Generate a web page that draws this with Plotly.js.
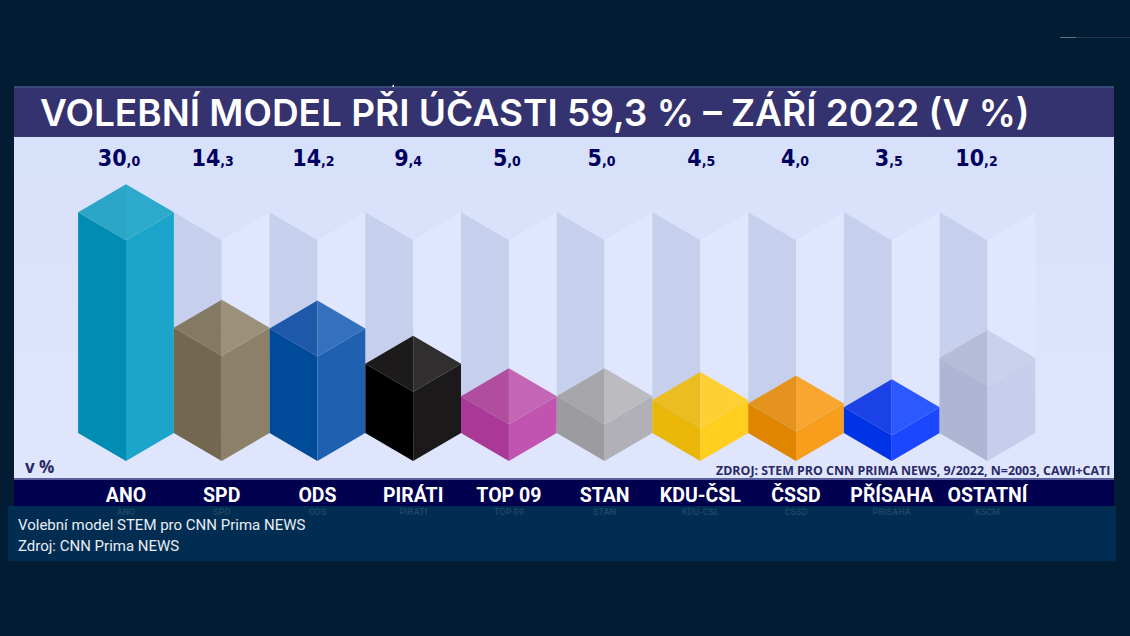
<!DOCTYPE html>
<html><head><meta charset="utf-8">
<script src="https://cdn.plot.ly/plotly-3.0.1.min.js"></script>
<style>html,body{margin:0;padding:0;background:#021c33;overflow:hidden}#c{width:1130px;height:636px}</style>
</head><body><div id="c"></div>
<script>
// --- data ---
const parties = ["ANO","SPD","ODS","PIRÁTI","TOP 09","STAN","KDU-ČSL","ČSSD","PŘÍSAHA","OSTATNÍ"];
const shares = [30.0,14.3,14.2,9.4,5.0,5.0,4.5,4.0,3.5,10.2];
const reflectedLabels = ["ANO","SPD","ODS","PIRÁTI","TOP 09","STAN","KDU-ČSL","ČSSD","PŘÍSAHA","KSČM"];
const ghostShare = 30;
// --- face colours ---
const leftColors  = ["#008db3","#73684f","#004a9a","#000000","#a93896","#9c9ca0","#eab708","#e08500","#0033e6","#aeb6d4"];
const rightColors = ["#1ba5cb","#8c8068","#1f61b0","#1b191a","#c154b0","#b0b0b6","#ffce1f","#f89e1c","#1a47ff","#c6ceec"];
const topLColors  = ["#2ba6c9","#847962","#1d59a8","#1c1a1b","#b14d9f","#a6a6aa","#ecbd20","#e3931e","#1a42e6","#b6bcd8"];
const topRColors  = ["#2da9cc","#9b907a","#3570bc","#302e2f","#c465b5","#bbbbc0","#ffd033","#f8a630","#2c58ff","#cbd1ec"];
// --- geometry of the picture ---
const W=1130,H=636,L=14,R=1114,T=137,B=518,AXIS=479,FLOOR=461,FIRST=126,STEP=95.72,UNIT=7.36;
const DEPTH=28/UNIT;
const labelNudge=[-7,-9,-4,-5,-2,-3,1,-1,-3,-11];
const xRange=[(L-FIRST)/STEP,(R-FIRST)/STEP];
const yRange=[(FLOOR-AXIS)/UNIT,(FLOOR-T)/UNIT];
const pX=px=>(px-L)/(R-L), pY=py=>(B-py)/(B-T);

const traces=[];
function face(xs,ys,color){
  traces.push({type:'scatter',mode:'lines',x:xs,y:ys,fill:'toself',fillcolor:color,
    line:{width:0,color:color},hoverinfo:'skip',showlegend:false});
}
function sides(i,v,cl,cr){
  face([i-.5,i,i,i-.5,i-.5],[DEPTH,0,v,v+DEPTH,DEPTH],cl);
  face([i,i+.5,i+.5,i,i],[0,DEPTH,v+DEPTH,v,0],cr);
}
parties.forEach((p,i)=>sides(i,ghostShare,'#c6d0ec','#e0e6fe'));
shares.forEach((v,i)=>{
  sides(i,v,leftColors[i],rightColors[i]);
  face([i-.5,i,i,i-.5],[v+DEPTH,v,v+2*DEPTH,v+DEPTH],topLColors[i]);
  face([i,i+.5,i,i],[v,v+DEPTH,v+2*DEPTH,v],topRColors[i]);
});
const FN='Roboto,sans-serif';
// value labels
traces.push({type:'scatter',mode:'text',
  x:shares.map((v,i)=>i+labelNudge[i]/STEP),
  y:shares.map(()=>(FLOOR-160)/UNIT),
  text:shares.map(v=>{const s=v.toFixed(1).split('.');return s[0]+'<span style="font-size:14px">,'+s[1]+'</span>';}),
  textfont:{family:'"DejaVu Sans Condensed","DejaVu Sans",sans-serif',size:23,color:'#00005f',weight:700},textposition:'middle center',hoverinfo:'skip',showlegend:false,cliponaxis:false});
// faint reflection under the label band
traces.push({type:'scatter',mode:'text',xaxis:'x2',yaxis:'y2',
  x:parties.map((p,i)=>i),y:parties.map(()=>1),text:reflectedLabels,
  textfont:{family:FN,size:9,color:'rgba(255,255,255,0.12)',weight:700},textposition:'bottom center',
  hoverinfo:'skip',showlegend:false,cliponaxis:true});

const rect=(x0,y0,x1,y1,c)=>({type:'rect',xref:'paper',yref:'paper',x0:pX(x0),x1:pX(x1),y0:pY(y0),y1:pY(y1),fillcolor:c,line:{width:0},layer:'below'});
const panelStrips=["#d8e1fa","#d9e2fa","#dae2fb","#dbe3fb","#dce3fb","#dde4fc","#dee5fc","#dfe5fd"];
const stripH=(479-137)/panelStrips.length;
const shapes=[
  ...panelStrips.map((c,k)=>rect(14,137+k*stripH,1114,479,c)),
  rect(14,87,1114,137,'#34326f'),
  rect(14,86,1114,88,'#3a4a78'),
  rect(14,479,1114,506,'#00004f'),
  rect(14,478,1114,480,'#5a5f9c'),
  rect(8,506,1116,561,'#022d53'),
  rect(1060,37,1076,38,'#5b7486'),
  rect(1076,37,1130,38,'#1c3a50'),
  rect(392.5,85,394,87,'#ffffff')
];
const ann=(px,py,text,size,color,anchor,family,weight)=>({xref:'paper',yref:'paper',x:pX(px),y:pY(py),text,showarrow:false,
  xanchor:anchor,yanchor:'middle',align:anchor,font:{size,color,family,weight}});
const annotations=[
  ann(23,466,'v %',17,'#2a2a66','left','"Open Sans",sans-serif',700),
  ann(1112,470,'ZDROJ: STEM PRO CNN PRIMA NEWS, 9/2022, N=2003, CAWI+CATI',12.4,'#2a2a66','right','"Open Sans",sans-serif',700),
  ann(16,525,'Volební model STEM pro CNN Prima NEWS',15,'#e8eef4','left','Roboto,sans-serif',400),
  ann(16,546,'Zdroj: CNN Prima NEWS',15,'#e8eef4','left','Roboto,sans-serif',400)
];
const layout={width:W,height:H,paper_bgcolor:'#021c33',plot_bgcolor:'rgba(0,0,0,0)',showlegend:false,
  margin:{l:L,r:W-R,t:T,b:H-B,pad:0,autoexpand:false},
  title:{text:'VOLEBNÍ MODEL PŘI ÚČASTI 59,3 % – ZÁŘÍ 2022 (V %)',x:40/W,xanchor:'left',y:1-113/H,yanchor:'middle',
    font:{family:'Inter,sans-serif',size:37,color:'#ffffff',weight:600}},
  xaxis:{range:xRange,anchor:'y',tickmode:'array',tickvals:parties.map((p,i)=>i),ticktext:parties,tickangle:0,
    ticklen:0,showgrid:false,zeroline:false,showline:false,tickfont:{family:FN,size:19.5,color:'#ffffff',weight:700},ticklabelstandoff:2},
  yaxis:{range:yRange,domain:[(B-AXIS)/(B-T),1],anchor:'x',visible:false,showgrid:false,zeroline:false},
  xaxis2:{range:xRange,anchor:'y2',visible:false,showgrid:false,zeroline:false},
  yaxis2:{range:[0,1],domain:[0,(B-508)/(B-T)],anchor:'x2',visible:false,showgrid:false,zeroline:false},
  shapes,annotations,hovermode:false};
Plotly.newPlot('c',traces,layout,{displayModeBar:false,staticPlot:true});
</script></body></html>
